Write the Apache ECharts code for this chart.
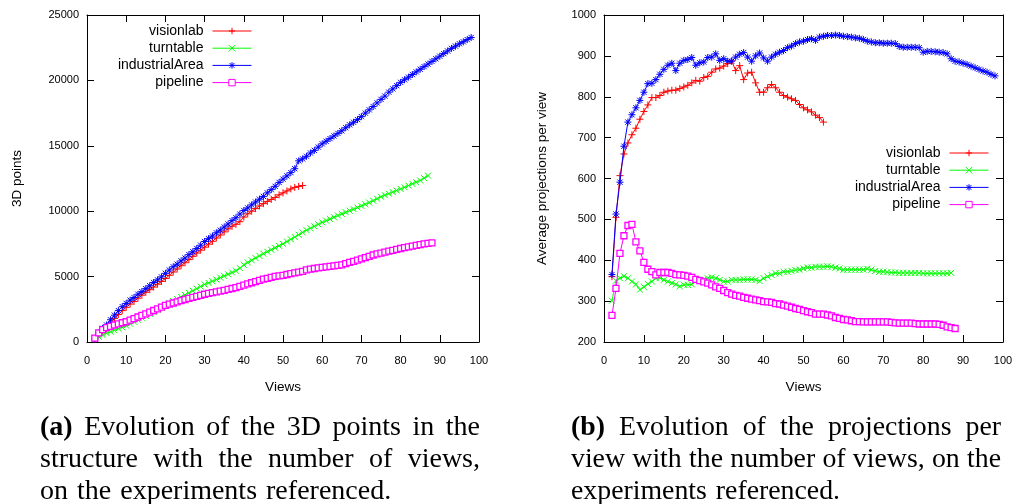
<!DOCTYPE html>
<html>
<head>
<meta charset="utf-8">
<script src="https://cdn.jsdelivr.net/npm/echarts@6/dist/echarts.min.js"></script>
<style>
  html, body { margin: 0; padding: 0; background: #fff; }
  #wrap { position: relative; width: 1016px; height: 504px; overflow: hidden; }
  #chart { position: absolute; left: 0; top: 0; width: 1016px; height: 504px; }
  .cap { position: absolute; font-family: 'Liberation Serif', serif; font-size: 28px; line-height: 32px; color: #000; }
  .cap .j { text-align: justify; text-align-last: justify; }
  .cap .l { text-align: left; word-spacing: 2px; }
</style>
</head>
<body>
<div id="wrap">
  <div id="chart"></div>
  <div class="cap" style="left:40px; width:440px; top:410px;">
    <div class="j"><b>(a)</b> Evolution of the 3D points in the</div>
    <div class="j">structure with the number of views,</div>
    <div class="l">on the experiments referenced.</div>
  </div>
  <div class="cap" style="left:571px; width:430px; top:410px; font-size:27.8px;">
    <div class="j"><b>(b)</b> Evolution of the projections per</div>
    <div class="j">view with the number of views, on the</div>
    <div class="l">experiments referenced.</div>
  </div>
</div>
<script>
// ---------------- DATA ----------------
const SERIES_NAMES = ['visionlab', 'turntable', 'industrialArea', 'pipeline'];
const FIRST_VIEW = 2; // every series starts at view 2, one value per view

// (a) 3D points
const visionlabPoints = [
  250, 600, 850, 1050, 1450, 1800, 2100, 2400, 2650,
  2900, 3100, 3350, 3580, 3800, 4000, 4200, 4420, 4630, 4850,
  5100, 5350, 5580, 5830, 6060, 6300, 6550, 6800, 7020, 7250,
  7480, 7700, 7950, 8180, 8420, 8650, 8850, 9000, 9200, 9550,
  9800, 10000, 10200, 10400, 10580, 10750, 10900, 11050, 11250, 11400,
  11550, 11700, 11820, 11900, 11960
];
const turntablePoints = [
  250, 400, 530, 680, 780, 900, 1020, 1130, 1250,
  1400, 1550, 1700, 1850, 2000, 2150, 2300, 2480, 2650, 2800,
  2960, 3120, 3280, 3440, 3600, 3760, 3920, 4080, 4240, 4400,
  4520, 4650, 4780, 4920, 5050, 5180, 5320, 5450, 5650, 5900,
  6080, 6250, 6420, 6580, 6750, 6900, 7050, 7200, 7350, 7500,
  7680, 7850, 8020, 8200, 8380, 8550, 8700, 8850, 9000, 9150,
  9280, 9410, 9540, 9670, 9800, 9920, 10040, 10160, 10280, 10400,
  10530, 10660, 10800, 10950, 11100, 11220, 11340, 11460, 11580, 11700,
  11830, 11960, 12090, 12220, 12350, 12530, 12720
];
const industrialAreaPoints = [
  250, 700, 1050, 1300, 1700, 2050, 2400, 2700, 2950,
  3200, 3400, 3650, 3850, 4080, 4300, 4550, 4750, 4980, 5250,
  5500, 5750, 5950, 6200, 6420, 6680, 6900, 7150, 7400, 7680,
  7900, 8100, 8350, 8550, 8790, 9020, 9280, 9500, 9780, 10050,
  10250, 10480, 10700, 10920, 11130, 11400, 11650, 11900, 12200, 12450,
  12700, 12950, 13250, 13850, 14000, 14200, 14450, 14650, 14900, 15150,
  15350, 15550, 15750, 15950, 16150, 16380, 16600, 16800, 17000, 17230,
  17500, 17750, 18000, 18280, 18550, 18800, 19100, 19350, 19600, 19850,
  20050, 20250, 20450, 20650, 20850, 21050, 21250, 21450, 21650, 21850,
  22050, 22250, 22450, 22620, 22800, 22950, 23120, 23280
];
const pipelinePoints = [
  300, 700, 950, 1100, 1200, 1300, 1380, 1470, 1550,
  1670, 1790, 1910, 2030, 2150, 2280, 2410, 2540, 2670, 2800,
  2890, 2980, 3070, 3160, 3250, 3330, 3410, 3490, 3570, 3650,
  3710, 3770, 3830, 3890, 3950, 4020, 4090, 4160, 4250, 4350,
  4440, 4530, 4620, 4710, 4800, 4870, 4940, 5020, 5060, 5100,
  5160, 5220, 5280, 5340, 5400, 5520, 5570, 5620, 5660, 5700,
  5740, 5780, 5820, 5860, 5900, 5990, 6080, 6170, 6260, 6350,
  6450, 6550, 6650, 6730, 6800, 6870, 6940, 7010, 7080, 7150,
  7210, 7270, 7330, 7390, 7450, 7500, 7540, 7580
];

// (b) average projections per view
const visionlabProj = [
  360, 505, 607, 660, 687, 707, 723, 745, 764,
  780, 798, 798, 803, 811, 814, 816, 816, 820, 824,
  828, 834, 840, 838, 847, 850, 860, 868, 870, 875,
  881, 888, 864, 876, 842, 858, 860, 834, 811, 811,
  822, 830, 822, 811, 803, 799, 795, 791, 781, 773,
  768, 763, 755, 749, 738
];
const turntableProj = [
  301, 350, 356, 361, 356, 348, 341, 328, 335,
  342, 348, 356, 357, 352, 348, 344, 341, 336, 340,
  340, 341, 349, 352, 353, 356, 358, 356, 352, 348,
  348, 352, 352, 352, 353, 353, 353, 352, 349, 356,
  360, 364, 368, 368, 372, 372, 374, 376, 377, 380,
  382, 382, 384, 384, 384, 385, 384, 382, 380, 377,
  377, 377, 377, 377, 377, 379, 377, 374, 372, 372,
  371, 370, 370, 369, 369, 369, 369, 369, 369, 368,
  368, 368, 368, 368, 368, 368, 369
];
const industrialAreaProj = [
  365, 513, 591, 679, 738, 756, 773, 791, 811,
  832, 833, 842, 855, 867, 877, 882, 864, 882, 889,
  891, 896, 877, 883, 885, 896, 897, 905, 889, 893,
  887, 887, 897, 904, 908, 897, 887, 900, 907, 895,
  887, 897, 904, 909, 913, 920, 924, 930, 934, 936,
  940, 942, 938, 946, 948, 950, 950, 951, 950, 948,
  947, 946, 944, 943, 940, 936, 934, 932, 932, 931,
  931, 931, 930, 923, 921, 921, 921, 921, 920, 909,
  911, 911, 910, 909, 908, 905, 893, 887, 885, 882,
  879, 875, 871, 867, 863, 860, 855, 851
];
const pipelineProj = [
  265, 331, 417, 460, 485, 488, 445, 423, 395,
  378, 372, 364, 370, 370, 370, 368, 365, 364, 363,
  361, 358, 353, 350, 347, 344, 340, 335, 331, 326,
  321, 317, 314, 312, 309, 307, 305, 303, 301, 299,
  298, 297, 294, 293, 290, 288, 285, 282, 280, 277,
  274, 272, 268, 268, 268, 266, 264, 260, 258, 255,
  254, 252, 250, 250, 249, 249, 249, 249, 249, 249,
  249, 248, 247, 246, 246, 246, 246, 245, 244, 244,
  244, 244, 244, 243, 241, 237, 235, 233
];

const X_TICKS = { min: 0, max: 100, interval: 10 };
const Y_TICKS_POINTS = { min: 0, max: 25000, interval: 5000 };
const Y_TICKS_PROJ = { min: 200, max: 1000, interval: 100 };

// ---------------- STYLE ----------------
const COLORS = ['#ff0000', '#00ff00', '#0000ff', '#ff00ff'];
const SYMBOLS = [
  'path://M0,4H8M4,0V8',
  'path://M0,0L8,8M8,0L0,8',
  'path://M0,4H8M4,0V8M1,1L7,7M7,1L1,7',
  'path://M0,0H8V8H0Z'
];
const SYMBOL_FILLS = [null, null, null, '#ffffff'];
const SYMBOL_SIZES = [7, 6, 7, 6];
const SYMBOL_BORDERS = [1, 1, 1, 1.3];
const FONT = 'Liberation Sans';

function toPoints(values) {
  return values.map((v, i) => [FIRST_VIEW + i, v]);
}

function makeSeries(valuesList, xi, yi) {
  return valuesList.map((vals, k) => ({
    name: SERIES_NAMES[k],
    type: 'line',
    xAxisIndex: xi,
    yAxisIndex: yi,
    data: toPoints(vals),
    symbol: SYMBOLS[k],
    symbolSize: SYMBOL_SIZES[k],
    showAllSymbol: true,
    lineStyle: { color: COLORS[k], width: 1 },
    itemStyle: { color: SYMBOL_FILLS[k] || COLORS[k], borderColor: COLORS[k], borderWidth: SYMBOL_BORDERS[k] },
    emphasis: { disabled: true },
    silent: true,
    z: 2 + k
  }));
}

function xAxes(gridIndex) {
  const base = {
    gridIndex, type: 'value', min: X_TICKS.min, max: X_TICKS.max, interval: X_TICKS.interval,
    axisLine: { show: true, onZero: false, lineStyle: { color: '#000', width: 1 } },
    axisTick: { show: true, inside: true, length: 7, lineStyle: { color: '#000', width: 1 } },
    splitLine: { show: false }
  };
  return [
    Object.assign({}, base, {
      position: 'bottom',
      name: 'Views', nameLocation: 'middle', nameGap: 38,
      nameTextStyle: { fontFamily: FONT, fontSize: 13.5, color: '#000' },
      axisLabel: { show: true, margin: 13, fontFamily: FONT, fontSize: 11, color: '#000' }
    }),
    Object.assign({}, base, { position: 'top', axisLabel: { show: false } })
  ];
}

function yAxes(gridIndex, ticks, name, nameGap) {
  const base = {
    gridIndex, type: 'value', min: ticks.min, max: ticks.max, interval: ticks.interval,
    axisLine: { show: true, onZero: false, lineStyle: { color: '#000', width: 1 } },
    axisTick: { show: true, inside: true, length: 7, lineStyle: { color: '#000', width: 1 } },
    splitLine: { show: false }
  };
  return [
    Object.assign({}, base, {
      position: 'left',
      name, nameLocation: 'middle', nameGap,
      nameTextStyle: { fontFamily: FONT, fontSize: 13.5, color: '#000' },
      axisLabel: { show: true, margin: 8, fontFamily: FONT, fontSize: 11, color: '#000',
                   formatter: v => String(v) }
    }),
    Object.assign({}, base, { position: 'right', axisLabel: { show: false } })
  ];
}

function legend(right, top) {
  return {
    data: SERIES_NAMES,
    orient: 'vertical',
    align: 'right',
    right, top,
    padding: 0,
    itemGap: 3.2,
    itemWidth: 39,
    itemHeight: 8,
    selectedMode: false,
    itemStyle: { borderWidth: 1 },
    lineStyle: { width: 1 },
    textStyle: { fontFamily: FONT, fontSize: 14, color: '#000', padding: [0, 4, 0, 0] }
  };
}

const chart = echarts.init(document.getElementById('chart'), null, { renderer: 'canvas' });
chart.setOption({
  animation: false,
  backgroundColor: '#fff',
  grid: [
    { left: 87, top: 15, width: 392, height: 327 },
    { left: 604, top: 15, width: 399, height: 327 }
  ],
  xAxis: [...xAxes(0), ...xAxes(1)],
  yAxis: [
    ...yAxes(0, Y_TICKS_POINTS, '3D points', 63),
    ...yAxes(1, Y_TICKS_PROJ, 'Average projections per view', 55)
  ],
  legend: [legend(764, 24), legend(27, 146)],
  series: [
    ...makeSeries([visionlabPoints, turntablePoints, industrialAreaPoints, pipelinePoints], 0, 0),
    ...makeSeries([visionlabProj, turntableProj, industrialAreaProj, pipelineProj], 2, 2)
  ]
});
</script>
</body>
</html>
